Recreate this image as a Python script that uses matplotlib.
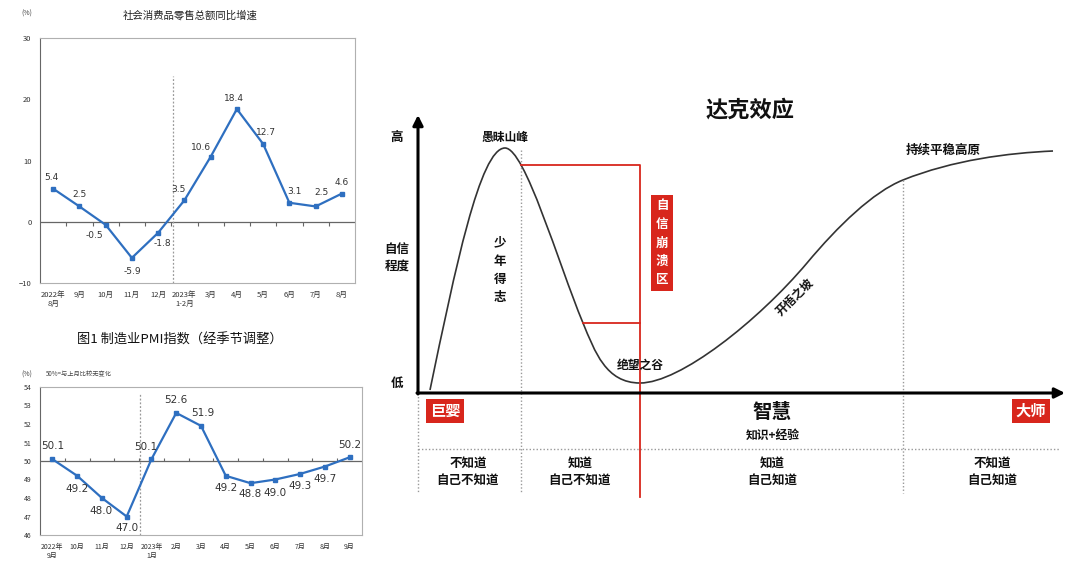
import numpy as np
import matplotlib.pyplot as plt
from matplotlib.path import Path
from matplotlib.patches import PathPatch

plt.rcParams['font.family'] = ['Noto Sans CJK SC', 'DejaVu Sans']

W, H = 1079, 572
BLUE = '#2e6fc0'
RED = '#d8261c'

# ---- top-left: retail sales growth ----
retail_labels = ['2022年\n8月', '9月', '10月', '11月', '12月', '2023年\n1-2月',
                 '3月', '4月', '5月', '6月', '7月', '8月']
retail_values = [5.4, 2.5, -0.5, -5.9, -1.8, 3.5, 10.6, 18.4, 12.7, 3.1, 2.5, 4.6]
retail_offsets = [(-1, 8), (0, 8.5), (-8, -8), (0, -9.5), (3, -7.5), (-4, 8),
                  (-7, 6.5), (-2, 7.5), (2, 8.5), (4, 8), (4, 10), (0, 8)]

# ---- bottom-left: manufacturing PMI ----
pmi_labels = ['2022年\n9月', '10月', '11月', '12月', '2023年\n1月', '2月', '3月',
              '4月', '5月', '6月', '7月', '8月', '9月']
pmi_values = [50.1, 49.2, 48.0, 47.0, 50.1, 52.6, 51.9, 49.2, 48.8, 49.0, 49.3, 49.7, 50.2]
pmi_offsets = [(0, 9.5), (0, -9.5), (-1, -9), (0, -8), (-4, 9), (0, 9.5), (1, 9.5),
               (0, -9), (0, -7.5), (0, -9.5), (0, -9), (0, -9), (0, 9)]

# ---- right: Dunning-Kruger schematic (knowledge, confidence) ----
curve_pts = [(12, 3), (37, 123), (62, 245), (87, 245),
             (107, 245), (140, 130), (165, 70),
             (177, 41), (188, 10), (222, 10),
             (262, 10), (340, 72), (389, 130),
             (420, 167), (455, 201), (485, 213),
             (535, 233), (590, 240), (635, 242)]
peak_k, valley_k, plateau_k = 103, 222, 485
collapse_top, collapse_low = 228, 70


def line_panel(rect, labels, values, offsets, ylim, yticks, ref, split, split_top,
               tick_dir, lab_fs, tick_fs):
    ax = fig.add_axes(rect)
    x = np.arange(len(values))
    ax.plot(x, values, color=BLUE, lw=1.6, marker='s', ms=3.2, zorder=3)
    ax.set_xlim(-0.5, len(values) - 0.5)
    ax.set_ylim(*ylim)
    ax.set_yticks(yticks)
    ax.set_xticks(x)
    ax.set_xticklabels(labels, fontsize=tick_fs, color='#333', linespacing=1.1)
    ax.tick_params(axis='both', length=0, labelsize=tick_fs, colors='#333')
    ax.tick_params(axis='x', pad=6)
    ax.tick_params(axis='y', pad=6)
    for s in ax.spines.values():
        s.set_color('#b0b0b0')
        s.set_linewidth(0.8)
    ax.spines['left'].set_color('#666')
    ax.axhline(ref, color='#666', lw=0.9, zorder=2)
    tick_h = (ylim[1] - ylim[0]) * 0.018 * tick_dir
    ax.vlines(x[:-1] + 0.5, ref, ref + tick_h, color='#666', lw=0.8)
    ax.vlines(split, ylim[0], split_top, color='#999', lw=0.9, linestyles=(0, (1.5, 1.5)))
    for xi, v, off in zip(x, values, offsets):
        ax.annotate(f'{v:.1f}', (xi, v), xytext=off, textcoords='offset points',
                    ha='center', va='center', fontsize=lab_fs, color='#333',
                    family=['DejaVu Sans'])
    return ax


fig = plt.figure(figsize=(W / 100, H / 100), dpi=100)
fig.patch.set_facecolor('white')

ax1 = line_panel([40 / W, (H - 283) / H, 315 / W, 245 / H], retail_labels, retail_values,
                 retail_offsets, (-10, 30), [-10, 0, 10, 20, 30], 0, 4.55, 23.8,
                 -1, 6.5, 5.5)
fig.text(190 / W, 1 - 15 / H, '社会消费品零售总额同比增速', ha='center', va='center',
         fontsize=7.5, color='#222')
fig.text(27 / W, 1 - 14 / H, '(%)', ha='center', va='center', fontsize=5, color='#444')

ax2 = line_panel([40 / W, (H - 535) / H, 322 / W, 148 / H], pmi_labels, pmi_values,
                 pmi_offsets, (46, 54), list(range(46, 55)), 50, 3.53, 53.6,
                 1, 7.5, 5)
fig.text(180 / W, 1 - 340 / H, '图1 制造业PMI指数（经季节调整）', ha='center', va='center',
         fontsize=9.5, color='#111')
fig.text(27 / W, 1 - 375 / H, '(%)', ha='center', va='center', fontsize=5, color='#444')
fig.text(46 / W, 1 - 374 / H, '50%=与上月比较无变化', ha='left', va='center',
         fontsize=4.5, color='#444')

# ---- Dunning-Kruger diagram ----
ax3 = fig.add_axes([418 / W, (H - 393) / H, 642 / W, 276 / H])
ax3.set_xlim(0, 642)
ax3.set_ylim(0, 276)
ax3.axis('off')

codes = [Path.MOVETO] + [Path.CURVE4] * (len(curve_pts) - 1)
ax3.add_patch(PathPatch(Path(curve_pts, codes), fc='none', ec='#333', lw=1.2, clip_on=False))

dot = dict(color='#999', lw=1.0, linestyle=(0, (1, 1.5)), clip_on=False)
ax3.plot([peak_k, peak_k], [243, -100], **dot)
ax3.plot([plateau_k, plateau_k], [213, -100], **dot)
ax3.plot([0, 0], [0, -100], **dot)
ax3.plot([0, 642], [-56, -56], **dot)

ax3.plot([peak_k, valley_k, valley_k], [collapse_top, collapse_top, -104],
         color=RED, lw=1.3, clip_on=False)
ax3.plot([165, valley_k], [collapse_low, collapse_low], color=RED, lw=1.3, clip_on=False)

arrow = dict(arrowstyle='-|>,head_length=0.6,head_width=0.3', lw=2.2, color='black',
             shrinkA=0, shrinkB=0)
ax3.annotate('', xy=(0, 278), xytext=(0, -1), arrowprops=arrow, annotation_clip=False)
ax3.annotate('', xy=(647, 0), xytext=(-1, 0), arrowprops=arrow, annotation_clip=False)

txt = dict(ha='center', va='center', color='#111', fontweight='bold', clip_on=False)
ax3.text(332, 283, '达克效应', fontsize=16, **txt)
ax3.text(-21, 256, '高', fontsize=9, **txt)
ax3.text(-21, 135, '自信\n程度', fontsize=9, linespacing=1.4, **txt)
ax3.text(-21, 10, '低', fontsize=9, **txt)
ax3.text(87, 256, '愚昧山峰', fontsize=8.5, **txt)
ax3.text(82, 123, '少\n年\n得\n志', fontsize=9, linespacing=1.5, **txt)
ax3.text(222, 28, '绝望之谷', fontsize=8.5, **txt)
ax3.text(377, 96, '开悟之坡', fontsize=8.5, rotation=45, **txt)
ax3.text(525, 243, '持续平稳高原', fontsize=9, **txt)
ax3.text(354, -19, '智慧', fontsize=14, **txt)
ax3.text(355, -42, '知识+经验', fontsize=8.5, **txt)
for k, s in zip([50, 162, 354, 574],
                ['不知道\n自己不知道', '知道\n自己不知道', '知道\n自己知道', '不知道\n自己知道']):
    ax3.text(k, -79, s, fontsize=9, linespacing=1.4, **txt)

box = dict(ha='center', va='center', color='white', fontweight='bold', clip_on=False)
ax3.text(244, 150, '自\n信\n崩\n溃\n区', fontsize=9, linespacing=1.55,
         bbox=dict(boxstyle='square,pad=0.35', fc=RED, ec='none'), **box)
ax3.text(27, -18, '巨婴', fontsize=11,
         bbox=dict(boxstyle='square,pad=0.25', fc=RED, ec='none'), **box)
ax3.text(613, -18, '大师', fontsize=11,
         bbox=dict(boxstyle='square,pad=0.25', fc=RED, ec='none'), **box)

fig.savefig('out.png', dpi=100)
